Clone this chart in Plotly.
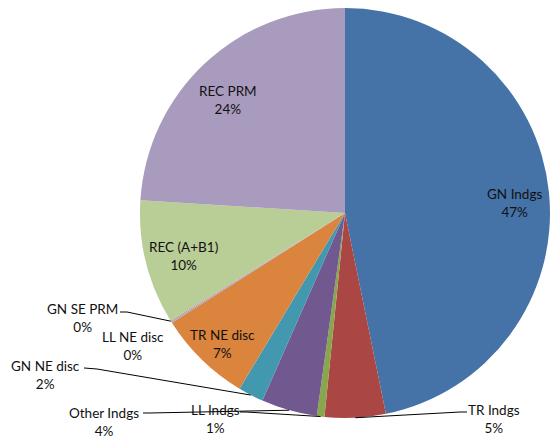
import math
import plotly.graph_objects as go

# ---- data ----
labels = ["GN Indgs", "TR Indgs", "LL Indgs", "Other Indgs", "GN NE disc",
          "TR NE disc", "LL NE disc", "GN SE PRM", "REC (A+B1)", "REC PRM"]
values = [46.8, 4.8, 0.6, 4.4, 2.0, 7.4, 0.1, 0.1, 9.8, 24.0]

# ---- styles / layout ----
colors = ["#4572A7", "#AA4643", "#89A54E", "#71588F", "#4198AF",
          "#DB843D", "#93A9CF", "#D19392", "#B9CD96", "#A99BBD"]
W, H = 550, 438
CX, CY, R = 345, 213, 205
FONT = "Lato"
FS = 13.5

# label centre positions (pixels)
label_pos = {
    "GN Indgs": (514, 203), "REC PRM": (228, 100), "REC (A+B1)": (183, 256),
    "TR NE disc": (222, 344), "TR Indgs": (494, 419), "LL Indgs": (215, 419),
    "Other Indgs": (104, 422), "GN NE disc": (45, 375), "GN SE PRM": (82, 318),
    "LL NE disc": (133, 346),
}
# leader line start points (pixels): text end, short horizontal elbow
leader_start = {
    "TR Indgs": [(467, 412), (460, 412)],
    "LL Indgs": [(240, 412), (246, 412)],
    "Other Indgs": [(143, 413), (150, 413)],
    "GN NE disc": [(84, 368), (97, 369)],
    "GN SE PRM": [(120, 312), (127, 312)],
}

def px(x):
    return x / W

def py(y):
    return 1 - y / H

fig = go.Figure(go.Pie(
    labels=labels, values=values, sort=False, direction="clockwise", rotation=0,
    marker=dict(colors=colors, line=dict(width=0)),
    textinfo="none", hoverinfo="label+percent", showlegend=False,
    domain=dict(x=[px(CX - R), px(CX + R)], y=[py(CY + R), py(CY - R)]),
))

total = sum(values)
cum = 0.0
mid_pt = {}
for lab, v in zip(labels, values):
    theta = 2 * math.pi * (cum + v / 2) / total
    mid_pt[lab] = (CX + R * math.sin(theta), CY - R * math.cos(theta))
    cum += v

annotations = []
for lab, v in zip(labels, values):
    x, y = label_pos[lab]
    pct = f"{round(v / total * 100):.0f}%"
    annotations.append(dict(
        x=px(x), y=py(y), xref="paper", yref="paper", showarrow=False,
        text=f"{lab}<br>{pct}", font=dict(family=FONT, size=FS, color="#111111"),
        xanchor="center", yanchor="middle", align="center"))

shapes = []
for lab, pts in leader_start.items():
    pts = pts + [mid_pt[lab]]
    path = "M " + " L ".join(f"{px(a):.5f},{py(b):.5f}" for a, b in pts)
    shapes.append(dict(type="path", path=path, xref="paper", yref="paper",
                       line=dict(color="#000000", width=1)))

fig.update_layout(
    width=W, height=H, margin=dict(l=0, r=0, t=0, b=0),
    paper_bgcolor="white", plot_bgcolor="white",
    annotations=annotations, shapes=shapes,
)
fig.write_html("out.html", config={"displayModeBar": False},
               post_script="document.body.style.margin='0';document.body.style.overflow='hidden';")
